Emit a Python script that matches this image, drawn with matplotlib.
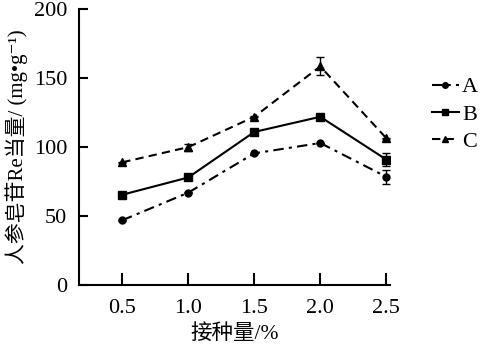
import matplotlib
matplotlib.use("Agg")
import matplotlib.pyplot as plt
from matplotlib.lines import Line2D

x = [0.5, 1.0, 1.5, 2.0, 2.5]
A = [47, 67, 95.5, 103, 78.5]
A_err = [0.3, 0.3, 0.3, 0.3, 5]
B = [65.5, 78, 111, 122, 91]
B_err = [0.3, 0.3, 0.3, 0.3, 4.7]
C = [89, 100, 122, 158.5, 106.5]
C_err = [0.3, 2.5, 0.3, 6.5, 0.3]
xticks = [0.5, 1.0, 1.5, 2.0, 2.5]
xticklabels = ["0.5", "1.0", "1.5", "2.0", "2.5"]
yticks = [0, 50, 100, 150, 200]
labels = ["A", "B", "C"]

serif = ["Liberation Serif", "Noto Sans CJK SC", "DejaVu Sans"]
plt.rcParams['font.family'] = serif

fig = plt.figure(figsize=(4.8, 3.52), dpi=100)
ax = fig.add_axes([0.165, 0.19, 0.648, 0.784])

styles = [("o", (0, (5, 2.5, 1.5, 2.5)), 5), ("s", "-", 5.5), ("^", (0, (4, 2.5)), 5.5)]
series = [(A, A_err), (B, B_err), (C, C_err)]
handles = []
for (y, e), (m, ls, ms), lab in zip(series, styles, labels):
    ax.errorbar(x, y, yerr=e, fmt="none", ecolor="black", elinewidth=1, capsize=3,
                capthick=1, zorder=1)
    ax.plot(x, y, color="black", lw=1.5, ls=ls, marker=m, ms=ms, zorder=3)
    handles.append(Line2D([], [], color="black", lw=1.5, ls=ls, marker=m, ms=ms - 1))

ax.set_xlim(0.174, 2.53)
ax.set_ylim(0, 200)
ax.set_xticks(xticks)
ax.set_xticklabels(xticklabels)
ax.set_yticks(yticks)
for s in ["top", "right"]:
    ax.spines[s].set_visible(False)
for s in ["left", "bottom"]:
    ax.spines[s].set_linewidth(1.5)
ax.tick_params(axis="y", direction="in", length=6.5, width=1.5, labelsize=16, pad=8.5)
ax.tick_params(axis="x", direction="in", length=8.5, width=1.5, labelsize=16, pad=10)

ax.set_xlabel("接种量/%", fontsize=15.5, labelpad=4)
ax.set_ylabel("人参皂苷Re当量/ (mg•g⁻¹)", fontsize=15, labelpad=4)

fig.legend(handles, labels, loc="center left", bbox_to_anchor=(0.9, 0.675), frameon=False,
           fontsize=16, handlelength=1.2, handletextpad=0.15, labelspacing=0.3,
           borderpad=0, borderaxespad=0)

fig.savefig("out.png", dpi=100)
